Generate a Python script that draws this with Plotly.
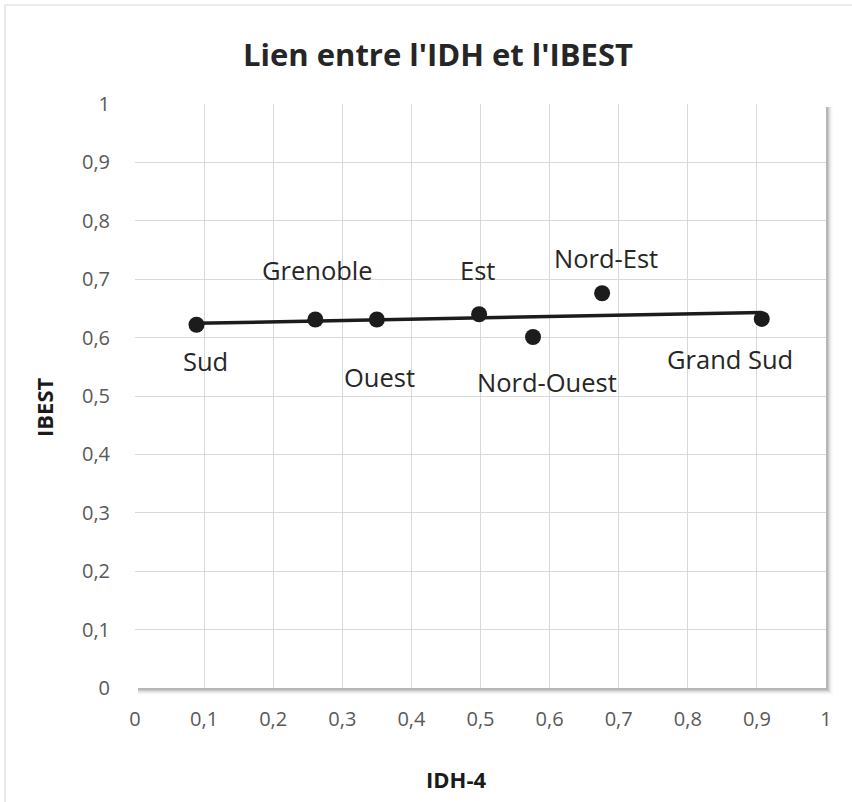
import numpy as np
import plotly.graph_objects as go

# Regional values
regions = ["Sud", "Grenoble", "Ouest", "Est", "Nord-Ouest", "Nord-Est", "Grand Sud"]
idh4 = [0.089, 0.261, 0.350, 0.498, 0.576, 0.676, 0.907]
ibest = [0.622, 0.631, 0.631, 0.640, 0.601, 0.676, 0.632]

tick_vals = [0, 0.1, 0.2, 0.3, 0.4, 0.5, 0.6, 0.7, 0.8, 0.9, 1]
tick_text = ["0", "0,1", "0,2", "0,3", "0,4", "0,5", "0,6", "0,7", "0,8", "0,9", "1"]

# Label placement around each marker (pixels)
label_offsets = {
    "Sud": (9, -36), "Grenoble": (2, 50), "Ouest": (3, -57), "Est": (-2, 44),
    "Nord-Ouest": (14, -45), "Nord-Est": (4, 35), "Grand Sud": (-32, -40),
}

W, H = 852, 802
L, R, T, B = 135, 26, 104, 114
PW, PH = W - L - R, H - T - B

# Linear trend line over the data range
slope, intercept = np.polyfit(idh4, ibest, 1)
tx = np.array([min(idh4), max(idh4)])
ty = slope * tx + intercept

fig = go.Figure()
fig.add_trace(go.Scatter(x=tx, y=ty, mode="lines",
                         line=dict(color="#1c1c1c", width=3.5), hoverinfo="skip"))
fig.add_trace(go.Scatter(x=idh4, y=ibest, mode="markers",
                         marker=dict(color="#1c1c1c", size=16), text=regions))


def px_x(p):
    return (p - L) / PW


def px_y(p):
    return (H - B - p) / PH


annotations = []
for name, x, y in zip(regions, idh4, ibest):
    dx, dy = label_offsets[name]
    annotations.append(dict(x=x, y=y, xref="x", yref="y", text=name, showarrow=False,
                            xanchor="center", yanchor="middle",
                            xshift=dx, yshift=dy,
                            font=dict(family="Open Sans", size=25.5, color="#262626")))

annotations += [
    dict(text="<b>Lien entre l'IDH et l'IBEST</b>", x=px_x(438), y=px_y(54),
         xref="paper", yref="paper", showarrow=False, xanchor="center", yanchor="middle",
         font=dict(family="Open Sans", size=31, color="#262626")),
    dict(text="<b>IDH-4</b>", x=px_x(456), y=px_y(779),
         xref="paper", yref="paper", showarrow=False, xanchor="center", yanchor="middle",
         font=dict(family="Open Sans", size=22, color="#1a1a1a")),
    dict(text="<b>IBEST</b>", x=px_x(44), y=px_y(407), textangle=-90,
         xref="paper", yref="paper", showarrow=False, xanchor="center", yanchor="middle",
         font=dict(family="Open Sans", size=22, color="#1a1a1a")),
]

shapes = []
# Soft shadow behind the plot area
for i, op in enumerate([0.10, 0.08, 0.06, 0.04, 0.025, 0.015]):
    off = i + 1
    shapes.append(dict(type="rect", xref="paper", yref="paper", layer="below",
                       x0=px_x(L + 3), x1=px_x(W - R + off + 1),
                       y0=px_y(H - B + off + 1), y1=px_y(T + 3),
                       line=dict(width=0), fillcolor=f"rgba(0,0,0,{op})"))
shapes.append(dict(type="rect", xref="paper", yref="paper", layer="below",
                   x0=0, x1=1, y0=0, y1=1, line=dict(width=0), fillcolor="white"))
# Chart area border
shapes.append(dict(type="rect", xref="paper", yref="paper", layer="below",
                   x0=px_x(5), x1=px_x(W + 6), y0=px_y(H + 6), y1=px_y(5),
                   line=dict(color="#d9d9d9", width=1.2), fillcolor="rgba(0,0,0,0)"))

axis_common = dict(range=[0, 1], tickvals=tick_vals, ticktext=tick_text,
                   showgrid=True, gridcolor="#d9d9d9", gridwidth=1.2,
                   zeroline=False, showline=False,
                   ticks="outside", tickcolor="rgba(0,0,0,0)",
                   tickfont=dict(family="Open Sans", size=20, color="#595959"),
                   fixedrange=True)

fig.update_layout(
    width=W, height=H, autosize=False,
    margin=dict(l=L, r=R, t=T, b=B),
    paper_bgcolor="white", plot_bgcolor="rgba(0,0,0,0)",
    showlegend=False,
    xaxis=dict(**axis_common, ticklen=13),
    yaxis=dict(**axis_common, ticklen=20),
    annotations=annotations,
    shapes=shapes,
)

fig.write_html("out.html")
